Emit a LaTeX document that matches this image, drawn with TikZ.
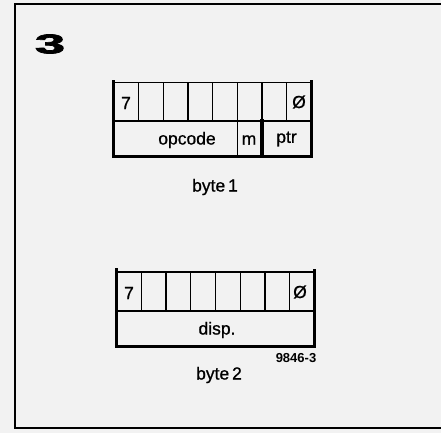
\documentclass[tikz,border=0pt]{standalone}
\usepackage{fontspec}
\setmainfont{Liberation Sans}
\newfontfamily\lblfont[FakeBold=0.8]{Liberation Sans}
\newfontfamily\heavyfont[FakeBold=2.5]{Liberation Sans Bold}
\begin{document}
\begin{tikzpicture}[x=1pt,y=-1pt,
  frameline/.style={line width=1.5pt, line cap=rect},
  thinline/.style={line width=1.3pt},
  thickline/.style={line width=3.2pt, line cap=rect},
  lbl/.style={inner sep=0pt, font=\lblfont\fontsize{17.5}{17.5}\selectfont},
  small/.style={inner sep=0pt, font=\fontsize{13}{13}\selectfont\bfseries}]
\useasboundingbox[fill=black!5] (0,0) rectangle (441,433);
% frame
\draw[frameline] (445,4) -- (15,4) -- (15,428) -- (445,428);
\node[inner sep=0pt] (fig) at (50,44) {\scalebox{2.0}[1]{\heavyfont\fontsize{27}{27}\selectfont 3}};

% ---- byte 1 ----
\foreach \i in {1,...,7} {
  \draw[thinline] ({113.8+24.71*\i},82.5) -- ({113.8+24.71*\i},121);
}
\draw[thinline] (113.8,121) -- (311.5,121);
\draw[thinline] (113.8,82.5) -- (311.5,82.5);
\draw[thinline] (237.3,121) -- (237.3,156.5);
\draw[thickline] (262,121) -- (262,156.5);
\draw[thickline] (113.8,82) -- (113.8,156.5) -- (311.5,156.5) -- (311.5,82);
\node[lbl] (b1hi) at (126,103) {7};
\node[lbl] (b1lo) at (299,102) {Ø};
\node[lbl] (opc) at (187,140) {opcode};
\node[lbl] (m) at (249,140) {m};
\node[lbl] (ptr) at (286.5,139) {ptr};
\node[lbl] (byte1) at (215,187) {byte\,1};

% ---- byte 2 ----
\foreach \i in {1,...,7} {
  \draw[thinline] ({116.5+24.75*\i},272) -- ({116.5+24.75*\i},311);
}
\draw[thinline] (116.5,272) -- (314.5,272);
\draw[thinline] (116.5,311) -- (314.5,311);
\draw[thickline] (116.5,270) -- (116.5,346.5) -- (314.5,346.5) -- (314.5,271);
\node[lbl] (b2hi) at (129,293) {7};
\node[lbl] (b2lo) at (300,292) {Ø};
\node[lbl] (disp) at (217,330) {disp.};
\node[small] (code) at (296,358) {9846-3};
\node[lbl] (byte2) at (219,375) {byte\,2};
\end{tikzpicture}
\end{document}
